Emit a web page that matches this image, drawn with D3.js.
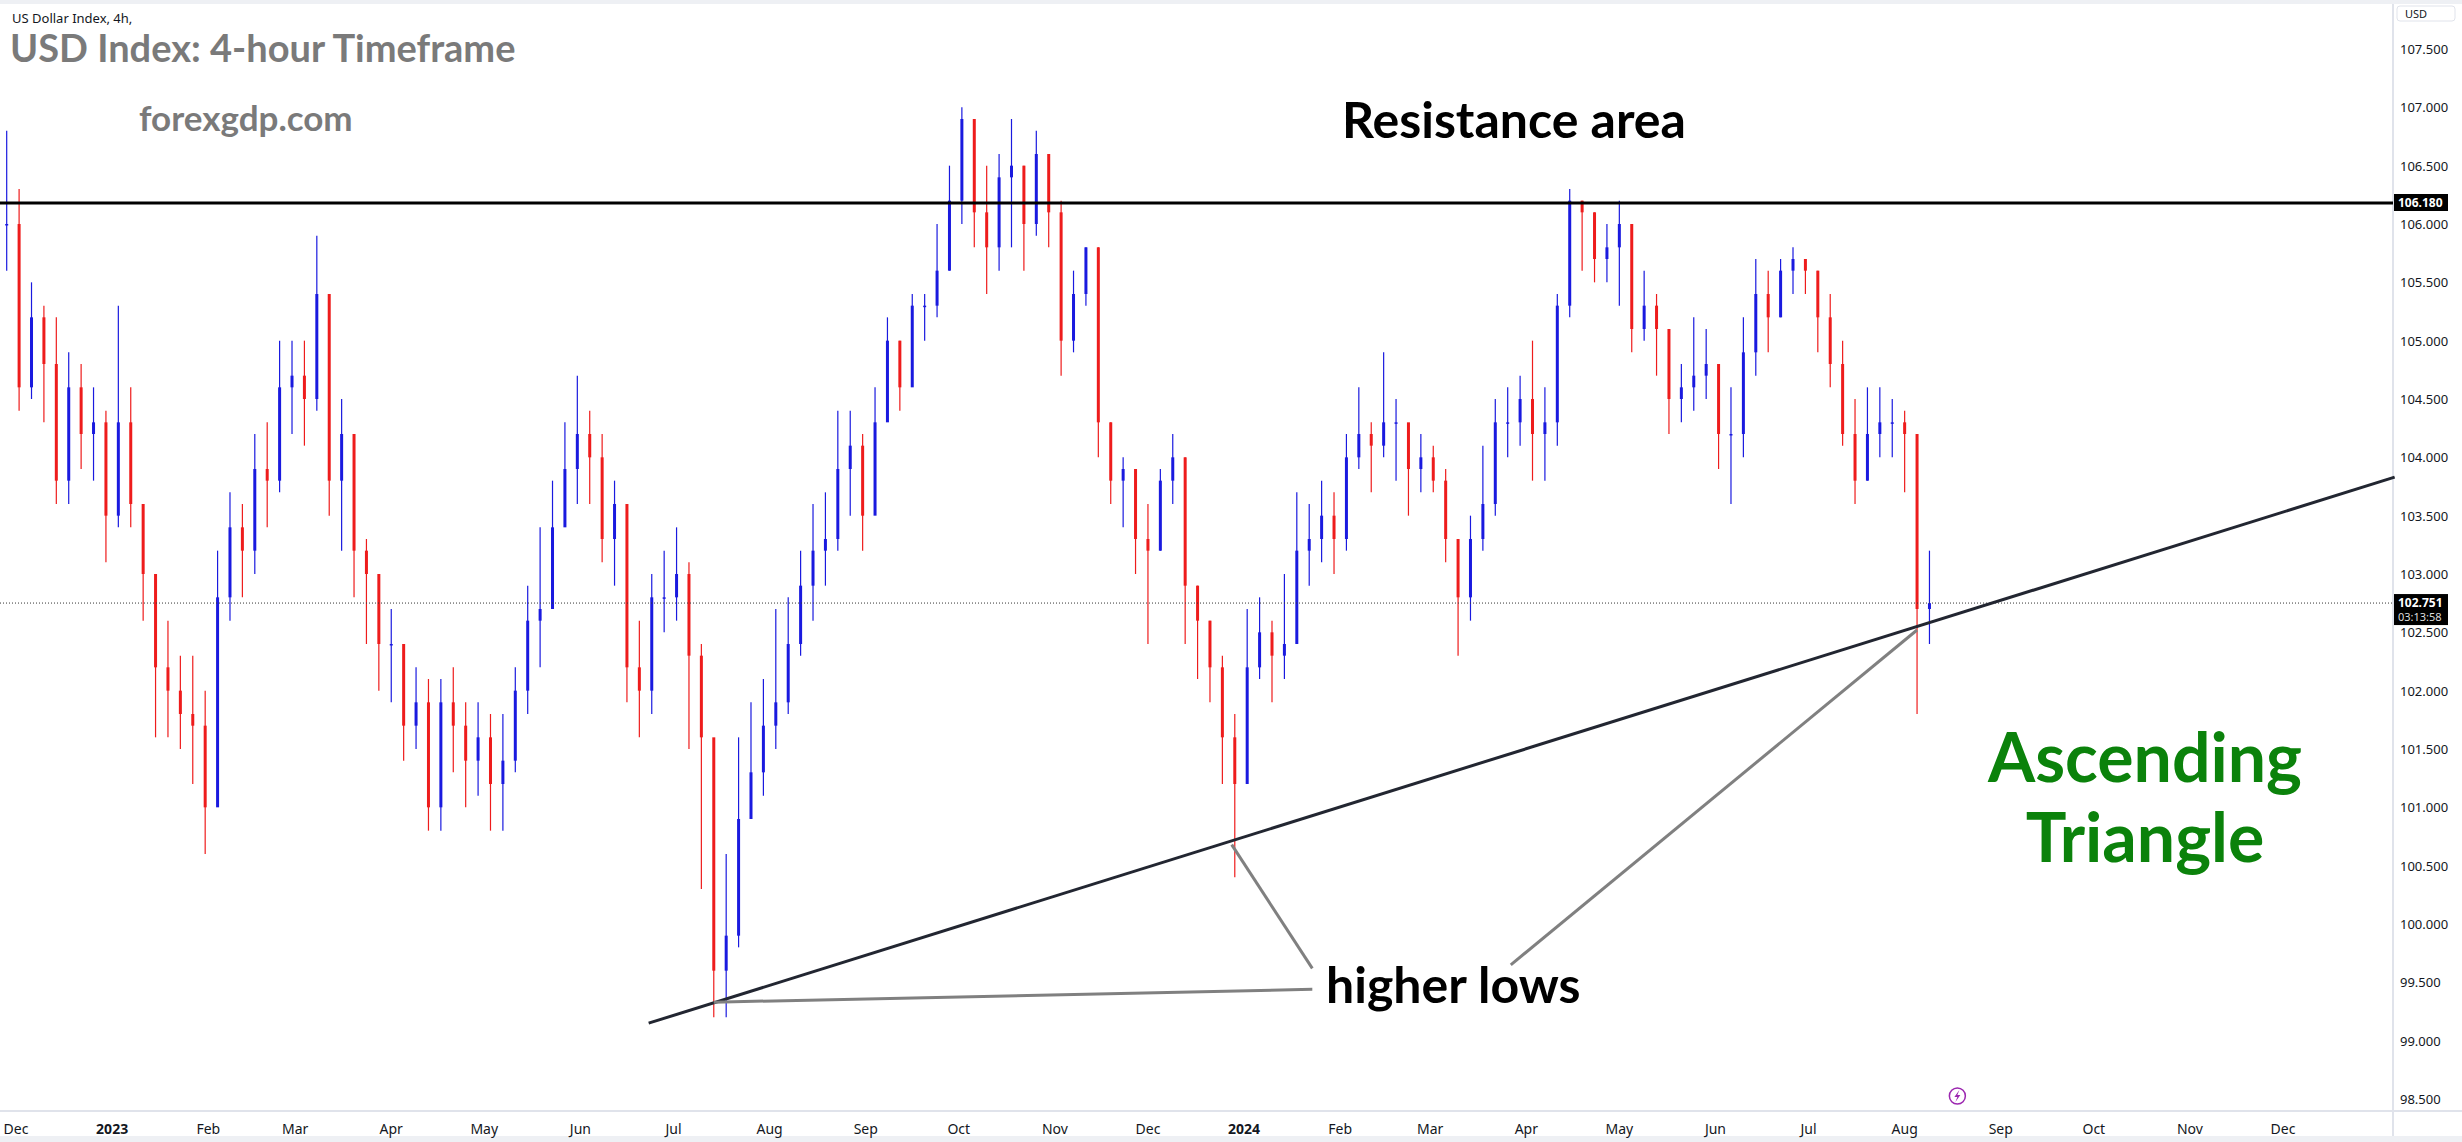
<!DOCTYPE html>
<html>
<head>
<meta charset="utf-8">
<script src="https://cdn.jsdelivr.net/npm/d3@7"></script>
<style>
  body { margin: 0; background: #fff; }
  svg { display: block; }
</style>
</head>
<body>
<svg id="chart"></svg>
<script>
// 4-day candles, first one on 2022-11-28 (open = previous close)
const startDate = "2022-11-28";
const stepDays = 4;
const closes = [
  106.0, 104.6, 105.2, 104.8, 103.8, 104.6, 104.2, 104.3, 103.5,
  104.3, 103.6, 103.0, 102.2, 102.0, 101.8, 101.7, 101.0,
  102.8, 103.4, 103.2, 103.9, 103.8, 104.6, 104.7,
  104.5, 105.4, 103.8, 104.2, 103.2, 103.0, 102.4,
  102.4, 101.7, 101.9, 101.0, 101.9, 101.7, 101.4, 101.6,
  101.2, 101.4, 102.0, 102.6, 102.7, 103.4, 103.9, 104.2,
  104.0, 103.3, 103.6, 102.2, 102.0, 102.8, 102.8,
  103.0, 102.3, 101.6, 99.6, 99.9, 100.9, 101.3, 101.7,
  101.9, 102.4, 102.9, 103.2, 103.3, 103.9, 104.1, 103.5,
  104.3, 105.0, 104.6, 105.3, 105.3, 105.6, 106.2,
  106.9, 106.1, 105.8, 106.4, 106.5, 106.0, 106.6, 106.1,
  105.0, 105.4, 105.8, 104.3, 103.8, 103.9, 103.3,
  103.2, 103.8, 104.0, 102.9, 102.6, 102.2, 101.6, 101.2,
  102.2, 102.5, 102.3, 102.4, 103.2, 103.3, 103.5, 103.3,
  104.0, 104.2, 104.1, 104.3, 104.3, 103.9, 104.0,
  103.8, 103.3, 102.8, 103.3, 103.6, 104.3, 104.3, 104.5,
  104.2, 104.3, 105.3, 106.2, 106.1, 105.7, 105.8,
  106.0, 105.1, 105.3, 105.1, 104.5, 104.6, 104.7, 104.8,
  104.2, 104.2, 104.9, 105.4, 105.2, 105.6, 105.7, 105.6,
  105.2, 104.8, 104.2, 103.8, 104.2, 104.3, 104.3,
  104.2, 102.7, 102.75
];
const highs = [
  106.8, 106.3, 105.5, 105.3, 105.2, 104.9, 104.8, 104.6, 104.4,
  105.3, 104.6, 103.6, 102.8, 102.6, 102.3, 102.3, 102.0,
  103.2, 103.7, 103.6, 104.2, 104.3, 105.0, 105.0,
  105.0, 105.9, 105.0, 104.5, 104.0, 103.3, 103.0,
  102.7, 102.3, 102.2, 102.1, 102.1, 102.2, 101.9, 101.9,
  101.8, 101.8, 102.2, 102.9, 103.4, 103.8, 104.3, 104.7,
  104.4, 104.2, 103.8, 103.4, 102.6, 103.0, 103.2,
  103.4, 103.1, 102.4, 100.8, 100.6, 101.6, 101.9, 102.1,
  102.7, 102.8, 103.2, 103.6, 103.7, 104.4, 104.4, 104.2,
  104.6, 105.2, 105.0, 105.4, 105.4, 106.0, 106.5,
  107.0, 106.9, 106.5, 106.6, 106.9, 106.5, 106.8, 106.3,
  106.2, 105.6, 105.8, 105.8, 104.3, 104.0, 103.8,
  103.6, 103.9, 104.2, 104.0, 102.9, 102.6, 102.3, 101.8,
  102.7, 102.8, 102.6, 103.0, 103.7, 103.6, 103.8, 103.7,
  104.2, 104.6, 104.3, 104.9, 104.5, 104.2, 104.2,
  104.1, 103.9, 103.3, 103.5, 104.1, 104.5, 104.6, 104.7,
  105.0, 104.6, 105.4, 106.3, 106.2, 106.1, 106.0,
  106.2, 106.0, 105.6, 105.4, 105.1, 104.8, 105.2, 105.1,
  104.8, 104.6, 105.2, 105.7, 105.6, 105.7, 105.8, 105.7,
  105.6, 105.4, 105.0, 104.5, 104.6, 104.6, 104.5,
  104.4, 103.9, 103.2
];
const lows = [
  105.6, 104.4, 104.5, 104.3, 103.6, 103.6, 103.9, 103.8, 103.1,
  103.4, 103.4, 102.6, 101.6, 101.6, 101.5, 101.2, 100.6,
  101.5, 102.6, 102.8, 103.0, 103.4, 103.7, 104.2,
  104.1, 104.4, 103.5, 103.2, 102.8, 102.4, 102.0,
  101.9, 101.4, 101.5, 100.8, 100.8, 101.3, 101.0, 101.1,
  100.8, 100.8, 101.3, 101.8, 102.2, 103.0, 103.5, 103.6,
  103.6, 103.1, 102.9, 101.9, 101.6, 101.8, 102.5,
  102.6, 101.5, 100.3, 99.2, 99.2, 99.8, 100.9, 101.1,
  101.5, 101.8, 102.3, 102.6, 102.9, 103.2, 103.5, 103.2,
  103.9, 104.6, 104.4, 104.8, 105.0, 105.2, 105.6,
  106.0, 105.8, 105.4, 105.6, 105.8, 105.6, 105.9, 105.8,
  104.7, 104.9, 105.3, 104.0, 103.6, 103.4, 103.0,
  102.4, 103.2, 103.6, 102.4, 102.1, 101.9, 101.2, 100.4,
  101.3, 102.1, 101.9, 102.1, 102.8, 102.9, 103.1, 103.0,
  103.2, 103.9, 103.7, 104.0, 103.8, 103.5, 103.7,
  103.7, 103.1, 102.3, 102.6, 103.2, 103.5, 104.0, 104.1,
  103.8, 103.8, 104.1, 105.2, 105.6, 105.5, 105.5,
  105.3, 104.9, 105.0, 104.7, 104.2, 104.3, 104.4, 104.5,
  103.9, 103.6, 104.0, 104.7, 104.9, 105.2, 105.4, 105.4,
  104.9, 104.6, 104.1, 103.6, 103.8, 104.0, 104.0,
  103.7, 101.8, 102.4
];

const priceTicks = [98.5, 99, 99.5, 100, 100.5, 101, 101.5, 102, 102.5, 103,
  103.5, 104, 104.5, 105, 105.5, 106, 106.5, 107, 107.5];
const resistance = 106.18;
const lastPrice = 102.751;
const countdown = "03:13:58";
// trend line and annotation lines: [date, price]
const trendLine = [["2023-06-23", 99.15], ["2025-01-06", 103.83]];
const pointerLines = [
  [["2023-07-14", 99.33], ["2024-01-23", 99.44]],
  [["2023-12-28", 100.68], ["2024-01-23", 99.62]],
  [["2024-08-05", 102.52], ["2024-03-27", 99.65]]
];

const W = 2462, H = 1142;
const plotRight = 2393, axisBottom = 1111;
const parse = d3.timeParse("%Y-%m-%d");

const svg = d3.select("#chart").attr("width", W).attr("height", H)
  .style("font-family", "'Noto Sans', sans-serif");

const x = d3.scaleTime()
  .domain([parse("2022-12-01"), parse("2024-12-01")])
  .range([16, 2283]);
const y = d3.scaleLinear().domain([98.5, 107.5]).range([1099, 49]);

// frame
svg.append("rect").attr("x", 0).attr("y", 0).attr("width", W).attr("height", 4).attr("fill", "#eef0f4");
svg.append("rect").attr("x", 0).attr("y", H - 6).attr("width", W).attr("height", 6).attr("fill", "#eef0f4");
svg.append("line").attr("x1", plotRight).attr("x2", plotRight).attr("y1", 4).attr("y2", H - 6)
  .attr("stroke", "#e0e3eb").attr("stroke-width", 2);
svg.append("line").attr("x1", 0).attr("x2", W).attr("y1", axisBottom).attr("y2", axisBottom)
  .attr("stroke", "#e0e3eb").attr("stroke-width", 2);

// candles
const data = closes.map((c, i) => ({
  date: d3.timeDay.offset(parse(startDate), i * stepDays),
  open: i === 0 ? c : closes[i - 1],
  close: c,
  high: highs[i],
  low: lows[i]
}));
const color = d => d.close >= d.open ? "#1a1adf" : "#ee1c1c";
const candle = svg.append("g").selectAll("g")
  .data(data)
  .join("g");
candle.append("line")
  .attr("x1", d => x(d.date)).attr("x2", d => x(d.date))
  .attr("y1", d => y(d.high)).attr("y2", d => y(d.low))
  .attr("stroke", color).attr("stroke-width", 1.2);
candle.append("rect")
  .attr("x", d => x(d.date) - 1.5).attr("width", 3)
  .attr("y", d => y(Math.max(d.open, d.close)))
  .attr("height", d => Math.max(1.5, Math.abs(y(d.open) - y(d.close))))
  .attr("fill", color);

// resistance
svg.append("line").attr("x1", 0).attr("x2", plotRight)
  .attr("y1", y(resistance)).attr("y2", y(resistance))
  .attr("stroke", "#000").attr("stroke-width", 3);

// last price dotted
svg.append("line").attr("x1", 0).attr("x2", plotRight)
  .attr("y1", y(lastPrice)).attr("y2", y(lastPrice))
  .attr("stroke", "#333").attr("stroke-width", 1).attr("stroke-dasharray", "1,2");

// trend line
svg.append("line")
  .attr("x1", x(parse(trendLine[0][0]))).attr("y1", y(trendLine[0][1]))
  .attr("x2", x(parse(trendLine[1][0]))).attr("y2", y(trendLine[1][1]))
  .attr("stroke", "#222631").attr("stroke-width", 3);

pointerLines.forEach(p => {
  svg.append("line")
    .attr("x1", x(parse(p[0][0]))).attr("y1", y(p[0][1]))
    .attr("x2", x(parse(p[1][0]))).attr("y2", y(p[1][1]))
    .attr("stroke", "#808080").attr("stroke-width", 3);
});

// texts
const bold = "Lato, 'Open Sans', sans-serif";
svg.append("text").attr("x", 12).attr("y", 23).text("US Dollar Index, 4h,")
  .attr("font-size", 13).attr("fill", "#131722");
svg.append("text").attr("x", 10).attr("y", 62).text("USD Index: 4-hour Timeframe")
  .attr("font-size", 38).attr("font-weight", "bold").attr("font-family", bold).attr("fill", "#7a7a7a");
svg.append("text").attr("x", 139).attr("y", 131).text("forexgdp.com")
  .attr("font-size", 35).attr("font-weight", "bold").attr("font-family", bold).attr("fill", "#7a7a7a");
svg.append("text").attr("x", 1514).attr("y", 138).attr("text-anchor", "middle").text("Resistance area")
  .attr("font-size", 50).attr("font-weight", "bold").attr("font-family", bold).attr("fill", "#000");
svg.append("text").attr("x", 1326).attr("y", 1003).text("higher lows")
  .attr("font-size", 50).attr("font-weight", "bold").attr("font-family", bold).attr("fill", "#000");
svg.append("text").attr("x", 2145).attr("y", 782).attr("text-anchor", "middle").text("Ascending")
  .attr("font-size", 68).attr("font-weight", "bold").attr("font-family", bold).attr("fill", "#0b820b");
svg.append("text").attr("x", 2145).attr("y", 862).attr("text-anchor", "middle").text("Triangle")
  .attr("font-size", 68).attr("font-weight", "bold").attr("font-family", bold).attr("fill", "#0b820b");

// price axis
svg.append("g").selectAll("text")
  .data(priceTicks)
  .join("text")
  .attr("x", 2400).attr("y", d => y(d) + 5)
  .text(d => d3.format(".3f")(d))
  .attr("font-size", 13).attr("fill", "#131722");
// USD button
svg.append("rect").attr("x", 2397).attr("y", 6).attr("width", 58).attr("height", 15).attr("rx", 3)
  .attr("fill", "#fff").attr("stroke", "#e0e3eb");
svg.append("text").attr("x", 2405).attr("y", 18).text("USD").attr("font-size", 11).attr("fill", "#131722");
// resistance label
svg.append("rect").attr("x", 2394).attr("y", y(resistance) - 9).attr("width", 54).attr("height", 17).attr("fill", "#000");
svg.append("text").attr("x", 2398).attr("y", y(resistance) + 4).text(d3.format(".3f")(resistance))
  .attr("font-size", 12).attr("font-weight", "bold").attr("fill", "#fff");
// last price label
svg.append("rect").attr("x", 2394).attr("y", y(lastPrice) - 9).attr("width", 54).attr("height", 31).attr("fill", "#000");
svg.append("text").attr("x", 2398).attr("y", y(lastPrice) + 4).text(d3.format(".3f")(lastPrice))
  .attr("font-size", 12).attr("font-weight", "bold").attr("fill", "#fff");
svg.append("text").attr("x", 2398).attr("y", y(lastPrice) + 18).text(countdown)
  .attr("font-size", 11).attr("fill", "#ddd");

// time axis
const months = d3.timeMonth.range(parse("2022-12-01"), parse("2024-12-02"));
svg.append("g").selectAll("text")
  .data(months)
  .join("text")
  .attr("x", d => x(d)).attr("y", 1134)
  .attr("text-anchor", "middle")
  .text(d => d.getMonth() === 0 ? d3.timeFormat("%Y")(d) : d3.timeFormat("%b")(d))
  .attr("font-size", 14)
  .attr("font-weight", d => d.getMonth() === 0 ? "bold" : "normal")
  .attr("fill", "#131722");

// lightning marker
const lx = x(parse("2024-08-18")), ly = 1096;
svg.append("circle").attr("cx", lx).attr("cy", ly).attr("r", 8)
  .attr("fill", "#fff").attr("stroke", "#9c27b0").attr("stroke-width", 1.5);
svg.append("path").attr("d", `M${lx + 2},${ly - 6} L${lx - 3},${ly + 1} L${lx},${ly + 1} L${lx - 2},${ly + 6} L${lx + 3},${ly - 1} L${lx},${ly - 1} Z`)
  .attr("fill", "#9c27b0");
</script>
</body>
</html>
